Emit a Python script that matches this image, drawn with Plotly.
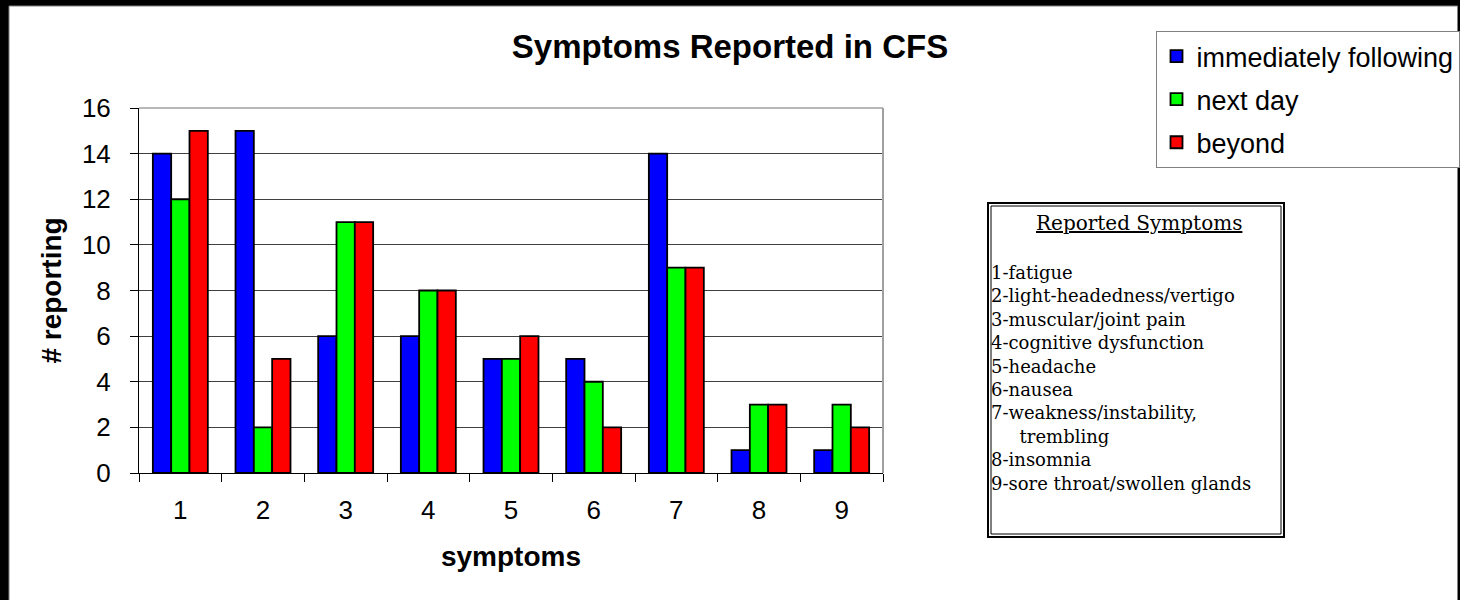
import plotly.graph_objects as go

# ---- data ----
symptoms = ["1", "2", "3", "4", "5", "6", "7", "8", "9"]
immediately_following = [14, 15, 6, 6, 5, 5, 14, 1, 1]
next_day = [12, 2, 11, 8, 5, 4, 9, 3, 3]
beyond = [15, 5, 11, 8, 6, 2, 9, 3, 2]
series_names = ["immediately following", "next day", "beyond"]
y_tick_values = [0, 2, 4, 6, 8, 10, 12, 14, 16]
key_title = "Reported Symptoms"
key_lines = [
    "1-fatigue",
    "2-light-headedness/vertigo",
    "3-muscular/joint pain",
    "4-cognitive dysfunction",
    "5-headache",
    "6-nausea",
    "7-weakness/instability,",
    "trembling",
    "8-insomnia",
    "9-sore throat/swollen glands",
]

# ---- layout geometry (pixels) ----
W, H = 1460, 600
PL, PR, PT, PB = 139, 883, 108, 473  # plot area edges


def px(x):
    return (x - PL) / (PR - PL)


def py(y):
    return (PB - y) / (PB - PT)


colors = ["#0000FF", "#00FF00", "#FF0000"]
series = [immediately_following, next_day, beyond]

fig = go.Figure()
for i, (name, vals, col) in enumerate(zip(series_names, series, colors)):
    fig.add_trace(go.Bar(
        x=symptoms, y=vals, name=name,
        marker=dict(color=col, line=dict(color="black", width=1.8)),
        legendgroup=name,
    ))

sans = "Liberation Sans, Arial, sans-serif"
serif = "DejaVu Serif, Liberation Serif, serif"

shapes = [
    # chart area
    dict(type="rect", xref="paper", yref="paper", layer="below",
         x0=px(9), x1=px(1457.5), y0=py(610), y1=py(6),
         fillcolor="white", line=dict(color="#808080", width=1)),
    # plot area top / right border
    dict(type="line", xref="paper", yref="paper", x0=0, x1=1, y0=1, y1=1,
         line=dict(color="#a0a0a0", width=1.5)),
    dict(type="line", xref="paper", yref="paper", x0=1, x1=1, y0=0, y1=1,
         line=dict(color="#a0a0a0", width=2)),
    # symptom key box: double border
    dict(type="rect", xref="paper", yref="paper",
         x0=px(988), x1=px(1284), y0=py(537), y1=py(203),
         fillcolor="white", line=dict(color="black", width=2)),
    dict(type="rect", xref="paper", yref="paper",
         x0=px(991), x1=px(1281), y0=py(534), y1=py(206),
         line=dict(color="black", width=1)),
]

# continuation lines of the key are indented under their entry
key_text = "<br>".join(
    line if line[0].isdigit() else "\u00a0" * 5 + line for line in key_lines
)

annotations = [
    dict(text="<u>%s</u>" % key_title, xref="paper", yref="paper",
         x=px(1139), y=py(223), xanchor="center", yanchor="middle",
         showarrow=False, font=dict(family=serif, size=20, color="black")),
    dict(text=key_text, xref="paper", yref="paper", align="left",
         x=px(990), y=py(378), xanchor="left", yanchor="middle",
         showarrow=False, borderpad=0,
         font=dict(family=serif, size=18, color="black")),
]

fig.update_layout(
    width=W, height=H,
    margin=dict(l=PL, r=W - PR, t=PT, b=H - PB, autoexpand=False),
    paper_bgcolor="black",
    plot_bgcolor="white",
    barmode="group",
    bargap=0.335,
    bargroupgap=0,
    title=dict(text="<b>Symptoms Reported in CFS</b>", xref="paper", x=px(730),
               xanchor="center", yref="container", y=1 - 46 / H, yanchor="middle",
               font=dict(family=sans, size=33, color="black")),
    font=dict(family=sans, color="black"),
    xaxis=dict(
        type="category", tickson="boundaries", ticks="outside", ticklen=8,
        tickcolor="black", tickwidth=1, showline=True, linecolor="black",
        linewidth=1, showgrid=False, tickfont=dict(size=26, color="black"),
        ticklabelstandoff=14,
        title=dict(text="<b>symptoms</b>", font=dict(size=28, color="black"),
                   standoff=22),
    ),
    yaxis=dict(
        range=[0, 16], tickvals=y_tick_values, ticks="outside", ticklen=8,
        tickcolor="black", tickwidth=1, showline=True, linecolor="black",
        linewidth=1, showgrid=True, gridcolor="#404040", gridwidth=1,
        zeroline=False, tickfont=dict(size=26, color="black"),
        ticklabelstandoff=14,
        title=dict(text="<b># reporting</b>", font=dict(size=28, color="black"),
                   standoff=12),
    ),
    legend=dict(
        x=px(1155.5), y=py(31), xanchor="left", yanchor="top",
        xref="paper", yref="paper",
        bgcolor="white", bordercolor="#808080", borderwidth=1,
        font=dict(family=sans, size=27, color="black"),
        tracegroupgap=5, traceorder="grouped",
    ),
    shapes=shapes,
    annotations=annotations,
)

fig.write_html("out.html")
